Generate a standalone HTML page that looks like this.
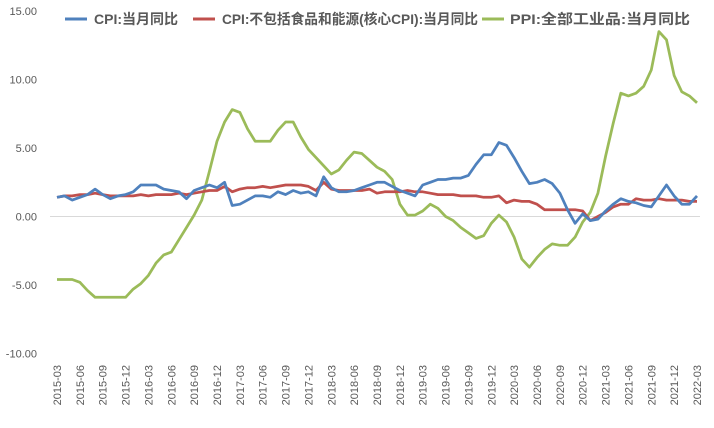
<!DOCTYPE html>
<html><head><meta charset="utf-8"><style>
body{margin:0;background:#fff;}
svg{display:block;font-family:"Liberation Sans","Noto Sans CJK SC",sans-serif;}
</style></head><body>
<svg id="c" width="714" height="428" xmlns="http://www.w3.org/2000/svg"></svg>
<script>
var cpi=[1.4,1.5,1.2,1.4,1.6,2.0,1.6,1.3,1.5,1.6,1.8,2.3,2.3,2.3,2.0,1.9,1.8,1.3,1.9,2.1,2.3,2.1,2.5,0.8,0.9,1.2,1.5,1.5,1.4,1.8,1.6,1.9,1.7,1.8,1.5,2.9,2.1,1.8,1.8,1.9,2.1,2.3,2.5,2.5,2.2,1.9,1.7,1.5,2.3,2.5,2.7,2.7,2.8,2.8,3.0,3.8,4.5,4.5,5.4,5.2,4.3,3.3,2.4,2.5,2.7,2.4,1.7,0.5,-0.5,0.2,-0.3,-0.2,0.4,0.9,1.3,1.1,1.0,0.8,0.7,1.5,2.3,1.5,0.9,0.9,1.5];
var core=[1.4,1.5,1.5,1.6,1.6,1.7,1.6,1.5,1.5,1.5,1.5,1.6,1.5,1.6,1.6,1.6,1.7,1.6,1.7,1.8,1.9,1.9,2.2,1.8,2.0,2.1,2.1,2.2,2.1,2.2,2.3,2.3,2.3,2.2,1.9,2.5,2.0,1.9,1.9,1.9,1.9,2.0,1.7,1.8,1.8,1.8,1.9,1.8,1.8,1.7,1.6,1.6,1.6,1.5,1.5,1.5,1.4,1.4,1.5,1.0,1.2,1.1,1.1,0.9,0.5,0.5,0.5,0.5,0.5,0.4,-0.3,0.0,0.3,0.7,0.9,0.9,1.3,1.2,1.2,1.3,1.2,1.2,1.2,1.1,1.1];
var ppi=[-4.6,-4.6,-4.6,-4.8,-5.4,-5.9,-5.9,-5.9,-5.9,-5.9,-5.3,-4.9,-4.3,-3.4,-2.8,-2.6,-1.7,-0.8,0.1,1.2,3.3,5.5,6.9,7.8,7.6,6.4,5.5,5.5,5.5,6.3,6.9,6.9,5.8,4.9,4.3,3.7,3.1,3.4,4.1,4.7,4.6,4.1,3.6,3.3,2.7,0.9,0.1,0.1,0.4,0.9,0.6,0.0,-0.3,-0.8,-1.2,-1.6,-1.4,-0.5,0.1,-0.4,-1.5,-3.1,-3.7,-3.0,-2.4,-2.0,-2.1,-2.1,-1.5,-0.4,0.3,1.7,4.4,6.8,9.0,8.8,9.0,9.5,10.7,13.5,12.9,10.3,9.1,8.8,8.3];
function X(i){return 57+i*7.619;}
function Y(v){return 216.5-v*13.7;}
var s='';
var ys=[15,10,5,0,-5,-10];
ys.forEach(function(v){s+='<text x="37" y="'+(Y(v)+4)+'" font-size="11" text-anchor="end" fill="#595959">'+v.toFixed(2)+'</text>';});
s+='<line x1="50" y1="'+Y(0)+'" x2="700" y2="'+Y(0)+'" stroke="#d9d9d9" stroke-width="1"/>';
for(var i=0;i<=84;i+=3){var y=2015+Math.floor((i+2)/12),m=((i+2)%12)+1;var lab=y+'-'+(m<10?'0':'')+m;
s+='<text transform="translate('+(X(i)+4)+',365) rotate(-90)" font-size="11" text-anchor="end" fill="#595959">'+lab+'</text>';}
function line(d,c){var p=d.map(function(v,i){return X(i).toFixed(1)+','+Y(v).toFixed(1);}).join(' ');
return '<polyline points="'+p+'" fill="none" stroke="'+c+'" stroke-width="2.75" stroke-linejoin="round"/>';}
s+=line(ppi,'#9BBB59')+line(core,'#C0504D')+line(cpi,'#4F81BD');
function leg(x,c,t,tx,tl){return '<line x1="'+x+'" y1="19" x2="'+(x+22)+'" y2="19" stroke="'+c+'" stroke-width="3"/><text x="'+tx+'" y="24" font-size="14" font-weight="bold" fill="#595959" textLength="'+tl+'" lengthAdjust="spacingAndGlyphs">'+t+'</text>';}
s+=leg(65,'#4F81BD','CPI:当月同比',94,84)+leg(193,'#C0504D','CPI:不包括食品和能源(核心CPI):当月同比',222,256)+leg(482,'#9BBB59','PPI:全部工业品:当月同比',510,180);
document.getElementById('c').innerHTML=s;
</script>
</body></html>
